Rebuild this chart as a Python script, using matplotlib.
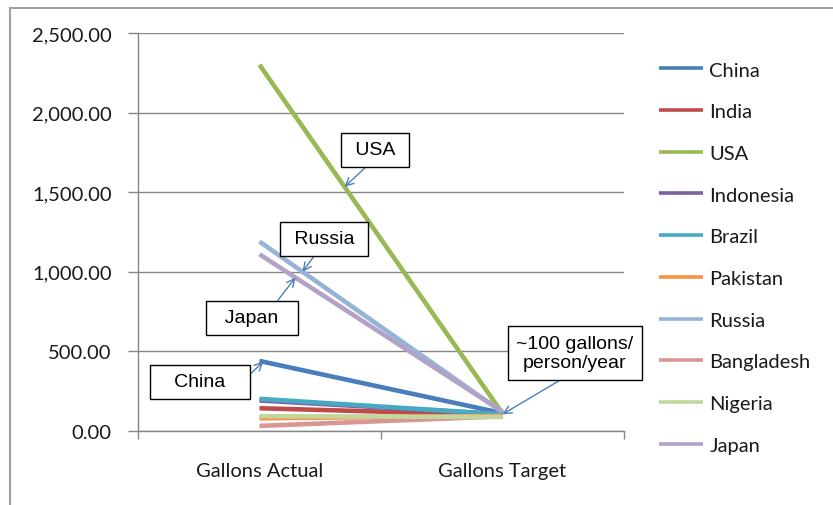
import matplotlib.pyplot as plt
from matplotlib.lines import Line2D
from matplotlib.ticker import FuncFormatter

# gallons per person per year, actual vs target
countries = ['China', 'India', 'USA', 'Indonesia', 'Brazil', 'Pakistan',
             'Russia', 'Bangladesh', 'Nigeria', 'Japan']
actual = [440, 143, 2300, 192, 202, 80, 1190, 32, 93, 1110]
target = [112, 100, 110, 105, 105, 95, 118, 92, 88, 122]
categories = ['Gallons Actual', 'Gallons Target']
colors = ['#4A7EBB', '#BE4B48', '#98B954', '#7D60A0', '#46AAC5', '#F69240',
          '#95B3D7', '#D99694', '#C3D69B', '#B3A2C7']

W, H = 833, 506
fig = plt.figure(figsize=(W / 100, H / 100), dpi=100)
ax = fig.add_axes([138 / W, 1 - 432 / H, (624 - 138) / W, (432 - 34) / H])

for name, a, t, c in zip(countries, actual, target, colors):
    ax.plot([0, 1], [a, t], color=c, lw=3.3, label=name, solid_capstyle='butt')

ax.set_xlim(-0.5, 1.5)
ax.set_ylim(0, 2500)
ax.set_yticks(range(0, 2501, 500))
ax.yaxis.set_major_formatter(FuncFormatter(lambda v, p: f'{v:,.2f}'))
ax.set_xticks([0, 1])
ax.set_xticklabels(categories)
ax.set_xticks([-0.5, 0.5, 1.5], minor=True)
ax.tick_params(axis='x', which='major', length=0, pad=22)
ax.tick_params(axis='x', which='minor', length=6, color='#868686', width=1)
ax.tick_params(axis='y', length=7, color='#868686', width=1, pad=12)
for lab in ax.get_xticklabels() + ax.get_yticklabels():
    lab.set_fontfamily('Lato')
    lab.set_fontsize(14.5)
    lab.set_color('#1a1a1a')

ax.grid(axis='y', color='#868686', lw=1)
ax.set_axisbelow(True)
for side in ['top', 'right']:
    ax.spines[side].set_visible(False)
for side in ['left', 'bottom']:
    ax.spines[side].set_color('#868686')
    ax.spines[side].set_linewidth(1)

# callout boxes with arrows pointing onto the lines
box = dict(boxstyle='square,pad=0.45', fc='white', ec='black', lw=1)
arrow = dict(arrowstyle='->', color='#4A7EBB', lw=1, shrinkA=0, shrinkB=0)


def point_on(i, frac):
    return (frac, actual[i] + frac * (target[i] - actual[i]))


callouts = [
    (' USA ', 2, 0.35, (375, 506 - 151), (0.5, 0)),
    (' Russia ', 6, 0.177, (324, 506 - 240), (0.45, 0)),
    ('  Japan  ', 9, 0.148, (252, 506 - 319), (0.75, 1)),
    ('   China   ', 0, 0.016, (200, 506 - 383), (1, 0.5)),
    ('~100 gallons/\nperson/year', 4, 1.0, (575, 506 - 354), (0.5, 0)),
]
for text, i, frac, pos, rel in callouts:
    ax.annotate(text, xy=point_on(i, frac), xytext=pos,
                textcoords='figure pixels', ha='center', va='center',
                fontfamily='Liberation Sans', fontsize=14, bbox=box,
                arrowprops=dict(arrow, relpos=rel), linespacing=1.2)

leg = fig.legend(loc='center left', bbox_to_anchor=(659 / W, 1 - 258.5 / H),
                 frameon=False, handlelength=2.2, handletextpad=0.3,
                 labelspacing=1.22, borderpad=0, borderaxespad=0,
                 prop={'family': 'Lato', 'size': 14.5})
for h in leg.get_lines():
    h.set_linewidth(2.6)
for t in leg.get_texts():
    t.set_color('#1a1a1a')

# outer chart frame
fig.add_artist(Line2D([10 / W, 10 / W], [0, 1 - 9 / H], color='#A0A0A0', lw=1.5))
fig.add_artist(Line2D([10 / W, 1], [1 - 9 / H, 1 - 9 / H], color='#A0A0A0', lw=1.5))

fig.savefig('out.png', dpi=100)
